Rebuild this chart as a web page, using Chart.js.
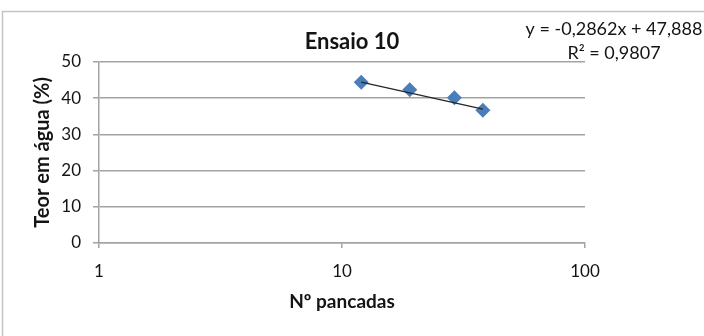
<!DOCTYPE html>
<html>
<head>
<meta charset="utf-8">
<script src="https://cdn.jsdelivr.net/npm/chart.js@4.4.1/dist/chart.umd.min.js"></script>
<style>
  html, body { margin: 0; padding: 0; background: #fff; overflow: hidden; }
  #wrap { width: 704px; height: 336px; position: relative; }
</style>
</head>
<body>
<div id="wrap"><canvas id="c" width="704" height="336"></canvas></div>
<script>
// Ensaio 10 – teor em água vs. número de pancadas
const pancadas = [12, 19, 29, 38];
const teorAgua = [44.4, 42.3, 40.1, 36.7];

// Linear trendline as reported on the chart
const trendSlope = -0.2862;
const trendIntercept = 47.888;
const trendR2 = 0.9807;

const xTickValues = [1, 10, 100];
const yTickValues = [0, 10, 20, 30, 40, 50];

const chartTitle = 'Ensaio 10';
const xAxisTitle = 'Nº pancadas';
const yAxisTitle = 'Teor em água (%)';

const fmt = (v, d) => v.toFixed(d).replace('.', ',');
const eqLine1 = 'y = ' + fmt(trendSlope, 4) + 'x + ' + fmt(trendIntercept, 3);
const eqLine2 = 'R² = ' + fmt(trendR2, 4);

// Trendline drawn between the first and last measured points
const xMin = Math.min(...pancadas);
const xMax = Math.max(...pancadas);
const trendPoints = [xMin, xMax].map(x => ({ x: x, y: trendSlope * x + trendIntercept }));
const dataPoints = pancadas.map((x, i) => ({ x: x, y: teorAgua[i] }));

const FONT = 'Lato, "Open Sans", sans-serif';
const TEXT = '#141414';
const GRID = '#a3a3a3';

// Thin frame around the whole chart
const framePlugin = {
  id: 'frame',
  beforeDraw(chart) {
    const ctx = chart.ctx;
    ctx.save();
    ctx.fillStyle = '#fff';
    ctx.fillRect(0, 0, chart.width, chart.height);
    ctx.strokeStyle = '#c4c4c4';
    ctx.lineWidth = 1.5;
    ctx.strokeRect(2.5, 11.5, chart.width + 20, chart.height + 20);
    ctx.restore();
  }
};

// Trendline equation label
const equationPlugin = {
  id: 'equation',
  afterDraw(chart) {
    const ctx = chart.ctx;
    ctx.save();
    ctx.fillStyle = TEXT;
    ctx.font = '18px ' + FONT;
    ctx.textAlign = 'center';
    ctx.textBaseline = 'middle';
    ctx.fillText(eqLine1, 614, 29);
    ctx.fillText(eqLine2, 614, 53);
    ctx.restore();
  }
};

new Chart(document.getElementById('c'), {
  type: 'scatter',
  data: {
    datasets: [
      {
        label: 'Linear',
        data: trendPoints,
        showLine: true,
        borderColor: '#262626',
        borderWidth: 1.3,
        pointRadius: 0,
        fill: false,
        order: 0
      },
      {
        label: 'Ensaio 10',
        data: dataPoints,
        pointStyle: 'rectRot',
        pointRadius: 7.5,
        pointBackgroundColor: '#4a7ebb',
        pointBorderColor: '#4a7ebb',
        pointBorderWidth: 0,
        showLine: false,
        order: 1
      }
    ]
  },
  options: {
    responsive: false,
    animation: false,
    devicePixelRatio: 1,
    layout: { padding: 0 },
    plugins: {
      legend: { display: false },
      tooltip: { enabled: false },
      title: {
        display: true,
        text: chartTitle,
        color: TEXT,
        font: { family: FONT, size: 22, weight: 'bold', lineHeight: 1.2 },
        padding: { top: 28.3, bottom: 7.3 }
      }
    },
    scales: {
      x: {
        type: 'logarithmic',
        position: 'bottom',
        min: 1,
        max: 100,
        afterBuildTicks: s => { s.ticks = xTickValues.map(v => ({ value: v })); },
        afterFit: s => { s.height = 93; },
        ticks: {
          autoSkip: false,
          maxRotation: 0,
          padding: 13,
          color: TEXT,
          font: { family: FONT, size: 17 },
          callback: v => String(v)
        },
        grid: { drawOnChartArea: false, drawTicks: true, tickLength: 5, color: GRID, lineWidth: 1.5 },
        border: { color: GRID, width: 1.5 },
        title: {
          display: true,
          text: xAxisTitle,
          color: TEXT,
          font: { family: FONT, size: 19, weight: 'bold', lineHeight: 1.2 },
          padding: { top: 0, bottom: 22.6 }
        }
      },
      y: {
        type: 'linear',
        position: 'left',
        min: 0,
        max: 50,
        afterBuildTicks: s => { s.ticks = yTickValues.map(v => ({ value: v })); },
        afterFit: s => { s.width = 99; },
        ticks: {
          padding: 12,
          color: TEXT,
          font: { family: FONT, size: 17 }
        },
        grid: { color: GRID, lineWidth: 1.5, tickLength: 6 },
        border: { color: GRID, width: 1.5 },
        title: {
          display: true,
          text: yAxisTitle,
          color: TEXT,
          font: { family: FONT, size: 20, weight: 'bold', lineHeight: 1.2 },
          padding: { top: 30.5, bottom: 0 }
        }
      },
      yRight: {
        type: 'linear',
        position: 'right',
        display: true,
        afterFit: s => { s.width = 119; },
        ticks: { display: false },
        grid: { display: false, drawTicks: false },
        border: { display: false }
      }
    }
  },
  plugins: [framePlugin, equationPlugin]
});
</script>
</body>
</html>
